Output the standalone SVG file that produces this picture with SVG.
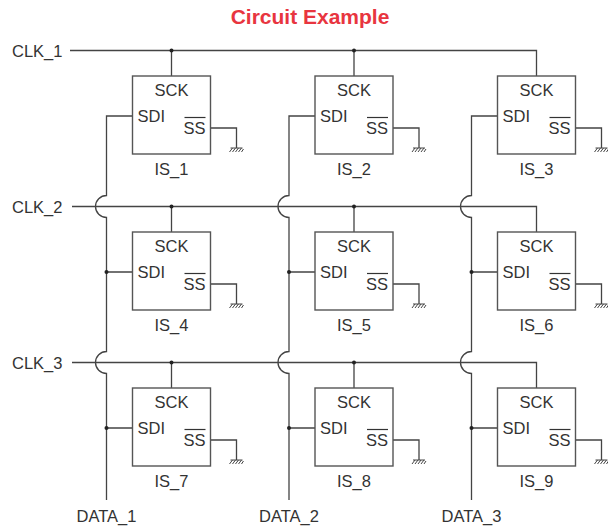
<svg xmlns="http://www.w3.org/2000/svg" width="608" height="529" viewBox="0 0 608 529">
<style>
  text { font-family: "Liberation Sans", Arial, sans-serif; font-size: 16.5px; fill: #333; }
  .title { font-size: 21px; font-weight: bold; fill: #e8353f; text-anchor: middle; }
  .mid { text-anchor: middle; }
  .end { text-anchor: end; }
  .box { fill: #fff; stroke: #555; stroke-width: 1.4; }
  .wire { fill: none; stroke: #444; stroke-width: 1.3; }
  .dot { fill: #222; }
  .ol { stroke: #333; stroke-width: 1.2; }
</style>
<defs>
  <g id="gnd" fill="none" stroke="#444" stroke-width="1">
    <path d="M -6 0 H 6"/>
    <path d="M -4 0 L -7 4 M -1 0 L -4 4 M 2 0 L -1 4 M 5 0 L 2 4 M 7 1 L 5 4"/>
  </g>
</defs>
<rect width="608" height="529" fill="#fff"/>
<text class="title" x="310" y="24">Circuit Example</text>

<g id="connectors">
  <!-- clock lines -->
  <path class="wire" d="M 70 50.5 H 536.5 V 76 M 171.5 50.5 V 76 M 354 50.5 V 76"/>
  <path class="wire" d="M 72 206.5 H 536.5 V 232 M 171.5 206.5 V 232 M 354 206.5 V 232"/>
  <path class="wire" d="M 72 362.5 H 536.5 V 388 M 171.5 362.5 V 388 M 354 362.5 V 388"/>
  <!-- data lines -->
  <path class="wire" d="M 132.5 116 H 106.5 V 195.5 A 11 11 0 0 0 106.5 217.5 V 351.5 A 11 11 0 0 0 106.5 373.5 V 500"/>
  <path class="wire" d="M 315 116 H 289 V 195.5 A 11 11 0 0 0 289 217.5 V 351.5 A 11 11 0 0 0 289 373.5 V 500"/>
  <path class="wire" d="M 497.5 116 H 471.5 V 195.5 A 11 11 0 0 0 471.5 217.5 V 351.5 A 11 11 0 0 0 471.5 373.5 V 500"/>
  <path class="wire" d="M 106.5 272 H 132.5 M 106.5 428 H 132.5 M 289 272 H 315 M 289 428 H 315 M 471.5 272 H 497.5 M 471.5 428 H 497.5"/>
  <!-- SS to ground -->
  <path class="wire" d="M 210.5 128 H 236.5 V 148 M 393 128 H 419 V 148 M 575.5 128 H 601.5 V 148"/>
  <path class="wire" d="M 210.5 284 H 236.5 V 304 M 393 284 H 419 V 304 M 575.5 284 H 601.5 V 304"/>
  <path class="wire" d="M 210.5 440 H 236.5 V 460 M 393 440 H 419 V 460 M 575.5 440 H 601.5 V 460"/>
  <use href="#gnd" x="236.5" y="148"/><use href="#gnd" x="419" y="148"/><use href="#gnd" x="601.5" y="148"/>
  <use href="#gnd" x="236.5" y="304"/><use href="#gnd" x="419" y="304"/><use href="#gnd" x="601.5" y="304"/>
  <use href="#gnd" x="236.5" y="460"/><use href="#gnd" x="419" y="460"/><use href="#gnd" x="601.5" y="460"/>
  <!-- junction dots -->
  <circle class="dot" cx="171.5" cy="50.5" r="2"/><circle class="dot" cx="354" cy="50.5" r="2"/>
  <circle class="dot" cx="171.5" cy="206.5" r="2"/><circle class="dot" cx="354" cy="206.5" r="2"/>
  <circle class="dot" cx="171.5" cy="362.5" r="2"/><circle class="dot" cx="354" cy="362.5" r="2"/>
  <circle class="dot" cx="106.5" cy="272" r="2"/><circle class="dot" cx="106.5" cy="428" r="2"/>
  <circle class="dot" cx="289" cy="272" r="2"/><circle class="dot" cx="289" cy="428" r="2"/>
  <circle class="dot" cx="471.5" cy="272" r="2"/><circle class="dot" cx="471.5" cy="428" r="2"/>
</g>

<g id="labels">
  <text x="12" y="57">CLK_1</text>
  <text x="12" y="213">CLK_2</text>
  <text x="12" y="369">CLK_3</text>
  <text class="mid" x="106.5" y="522">DATA_1</text>
  <text class="mid" x="289" y="522">DATA_2</text>
  <text class="mid" x="471.5" y="522">DATA_3</text>
</g>

<g id="IS_1">
  <rect class="box" x="132.5" y="76" width="78" height="78"/>
  <text class="mid" x="171.5" y="95.5">SCK</text><text x="137.5" y="121.5">SDI</text>
  <text class="end" x="205.5" y="134">SS</text><line class="ol" x1="184.5" y1="117.5" x2="205.5" y2="117.5"/>
  <text class="mid" x="171.5" y="175">IS_1</text>
</g>
<g id="IS_2">
  <rect class="box" x="315" y="76" width="78" height="78"/>
  <text class="mid" x="354" y="95.5">SCK</text><text x="320" y="121.5">SDI</text>
  <text class="end" x="388" y="134">SS</text><line class="ol" x1="367" y1="117.5" x2="388" y2="117.5"/>
  <text class="mid" x="354" y="175">IS_2</text>
</g>
<g id="IS_3">
  <rect class="box" x="497.5" y="76" width="78" height="78"/>
  <text class="mid" x="536.5" y="95.5">SCK</text><text x="502.5" y="121.5">SDI</text>
  <text class="end" x="570.5" y="134">SS</text><line class="ol" x1="549.5" y1="117.5" x2="570.5" y2="117.5"/>
  <text class="mid" x="536.5" y="175">IS_3</text>
</g>
<g id="IS_4">
  <rect class="box" x="132.5" y="232" width="78" height="78"/>
  <text class="mid" x="171.5" y="251.5">SCK</text><text x="137.5" y="277.5">SDI</text>
  <text class="end" x="205.5" y="290">SS</text><line class="ol" x1="184.5" y1="273.5" x2="205.5" y2="273.5"/>
  <text class="mid" x="171.5" y="331">IS_4</text>
</g>
<g id="IS_5">
  <rect class="box" x="315" y="232" width="78" height="78"/>
  <text class="mid" x="354" y="251.5">SCK</text><text x="320" y="277.5">SDI</text>
  <text class="end" x="388" y="290">SS</text><line class="ol" x1="367" y1="273.5" x2="388" y2="273.5"/>
  <text class="mid" x="354" y="331">IS_5</text>
</g>
<g id="IS_6">
  <rect class="box" x="497.5" y="232" width="78" height="78"/>
  <text class="mid" x="536.5" y="251.5">SCK</text><text x="502.5" y="277.5">SDI</text>
  <text class="end" x="570.5" y="290">SS</text><line class="ol" x1="549.5" y1="273.5" x2="570.5" y2="273.5"/>
  <text class="mid" x="536.5" y="331">IS_6</text>
</g>
<g id="IS_7">
  <rect class="box" x="132.5" y="388" width="78" height="78"/>
  <text class="mid" x="171.5" y="407.5">SCK</text><text x="137.5" y="433.5">SDI</text>
  <text class="end" x="205.5" y="446">SS</text><line class="ol" x1="184.5" y1="429.5" x2="205.5" y2="429.5"/>
  <text class="mid" x="171.5" y="487">IS_7</text>
</g>
<g id="IS_8">
  <rect class="box" x="315" y="388" width="78" height="78"/>
  <text class="mid" x="354" y="407.5">SCK</text><text x="320" y="433.5">SDI</text>
  <text class="end" x="388" y="446">SS</text><line class="ol" x1="367" y1="429.5" x2="388" y2="429.5"/>
  <text class="mid" x="354" y="487">IS_8</text>
</g>
<g id="IS_9">
  <rect class="box" x="497.5" y="388" width="78" height="78"/>
  <text class="mid" x="536.5" y="407.5">SCK</text><text x="502.5" y="433.5">SDI</text>
  <text class="end" x="570.5" y="446">SS</text><line class="ol" x1="549.5" y1="429.5" x2="570.5" y2="429.5"/>
  <text class="mid" x="536.5" y="487">IS_9</text>
</g>
</svg>
